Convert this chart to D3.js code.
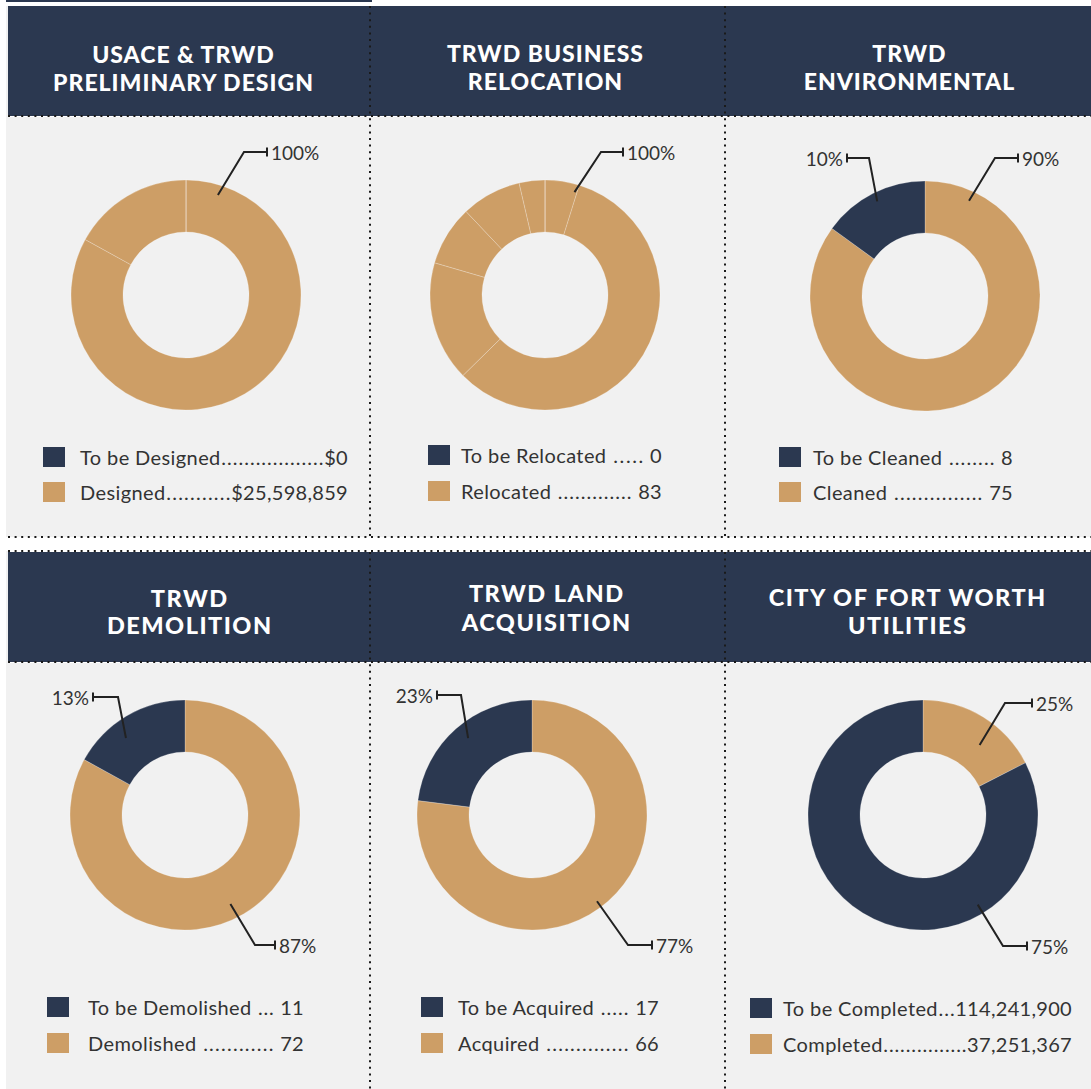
<!DOCTYPE html>
<html>
<head>
<meta charset="utf-8">
<script src="https://cdn.jsdelivr.net/npm/d3@7"></script>
<style>
  body { margin: 0; background: #fff; }
  svg { display: block; font-family: Lato, "Open Sans", sans-serif; }
</style>
</head>
<body>
<script>
// panel titles (two lines each)
const titles = [
    ["USACE & TRWD", "PRELIMINARY DESIGN"],
    ["TRWD BUSINESS", "RELOCATION"],
    ["TRWD", "ENVIRONMENTAL"],
    ["TRWD", "DEMOLITION"],
    ["TRWD LAND", "ACQUISITION"],
    ["CITY OF FORT WORTH", "UTILITIES"]
];

// legend rows
const pendingLabels = ["To be Designed", "To be Relocated", "To be Cleaned", "To be Demolished", "To be Acquired", "To be Completed"];
const doneLabels = ["Designed", "Relocated", "Cleaned", "Demolished", "Acquired", "Completed"];
const pendingValues = ["$0", "0", "8", "11", "17", "114,241,900"];
const doneValues = ["$25,598,859", "83", "75", "72", "66", "37,251,367"];

// percent call-outs
const pendingPct = [null, null, "10%", "13%", "23%", "75%"];
const donePct = ["100%", "100%", "90%", "87%", "77%", "25%"];

// ring shares as drawn in the graphic (done parts first, clockwise from 12 o'clock)
const doneShares = [[83, 17], [4, 48, 14, 7, 7, 3], [85], [83], [77], [17.5]];
const pendingShares = [0, 0, 15, 17, 23, 82.5];

const navy = "#2b3850";
const tan = "#cd9e66";
const panelBg = "#f1f1f1";
const ink = "#333";

// layout of each panel (pixels)
const layout = [
    {cx: 186, cy: 295, tx: 183, ty: [54, 82], ts: 23, ls: 1, lg: {x: 43, y: 447, gap: 35, tx: 80, right: 348, sp: false},
        done: {a: 17.7, r: 105, ex: 58, ey: -143, len: 23}},
    {cx: 545, cy: 295, tx: 545, ty: [53, 81], ts: 23, ls: 1, lg: {x: 428, y: 445, gap: 36, tx: 461, right: 662, sp: true},
        done: {a: 16, r: 107, ex: 56, ey: -143, len: 22}},
    {cx: 925, cy: 296, tx: 909, ty: [53, 81], ts: 23, ls: 1, lg: {x: 779, y: 447, gap: 35, tx: 813, right: 1013, sp: true},
        done: {a: 24.8, r: 105, ex: 70, ey: -138, len: 23}, pending: {a: -26.8, r: 106, ex: -56, ey: -138, len: 22}},
    {cx: 185, cy: 815, tx: 189, ty: [598, 625], ts: 23.5, ls: 1.5, lg: {x: 47, y: 997, gap: 36, tx: 88, right: 304, sp: true},
        done: {a: 153, r: 100, ex: 70, ey: 130, len: 20}, pending: {a: -37.5, r: 97, ex: -67, ey: -118, len: 25}},
    {cx: 532, cy: 815, tx: 546, ty: [593, 622], ts: 23.5, ls: 1.5, lg: {x: 421, y: 997, gap: 36, tx: 458, right: 659, sp: true},
        done: {a: 143, r: 108, ex: 96, ey: 130, len: 24}, pending: {a: -39.7, r: 100, ex: -71, ey: -120, len: 24}},
    {cx: 923, cy: 815, tx: 907, ty: [597, 625], ts: 23.5, ls: 1.5, lg: {x: 750, y: 998, gap: 36, tx: 783, right: 1072, sp: false},
        done: {a: 39, r: 90, ex: 82, ey: -112, len: 27}, pending: {a: 148.6, r: 105, ex: 80, ey: 131, len: 24}}
];

function main() {
    const W = 1091, H = 1089;
    const svg = d3.select("body").append("svg")
        .attr("width", W)
        .attr("height", H);

    // top rule
    svg.append("rect").attr("x", 6).attr("y", 0).attr("width", 366).attr("height", 2).attr("fill", navy);

    // panel backgrounds and header bands
    [[117, 537], [663, 1089]].forEach(function(r) {
        svg.append("rect").attr("x", 6).attr("y", r[0]).attr("width", W - 6).attr("height", r[1] - r[0]).attr("fill", panelBg);
    });
    svg.append("rect").attr("x", 6).attr("y", 6).attr("width", 2).attr("height", 111).attr("fill", panelBg);
    svg.append("rect").attr("x", 6).attr("y", 551).attr("width", 2).attr("height", 112).attr("fill", panelBg);
    [[6, 116], [552, 662]].forEach(function(r) {
        svg.append("rect").attr("x", 8).attr("y", r[0]).attr("width", W - 8).attr("height", r[1] - r[0]).attr("fill", navy);
    });

    // dotted separators
    const dots = svg.append("g")
        .attr("stroke", "#1a1a1a")
        .attr("stroke-width", 2)
        .attr("stroke-dasharray", "2 4.6");
    [116, 537, 551, 662].forEach(function(y) {
        dots.append("line").attr("x1", 8).attr("x2", W).attr("y1", y).attr("y2", y);
    });
    [370, 725].forEach(function(x) {
        dots.append("line").attr("x1", x).attr("x2", x).attr("y1", 6).attr("y2", 537);
        dots.append("line").attr("x1", x).attr("x2", x).attr("y1", 552).attr("y2", H);
    });

    const pie = d3.pie().sort(null).value(d => d.v);
    const arc = d3.arc().innerRadius(63).outerRadius(115);

    layout.forEach(function(p, i) {
        // title
        titles[i].forEach(function(line, k) {
            svg.append("text")
                .attr("x", p.tx + p.ls / 2)
                .attr("y", p.ty[k])
                .attr("text-anchor", "middle")
                .attr("dominant-baseline", "central")
                .attr("fill", "#fff")
                .attr("font-size", p.ts)
                .attr("font-weight", 900)
                .attr("letter-spacing", p.ls)
                .text(line);
        });

        // donut
        const slices = doneShares[i].map(v => ({v: v, c: tan}))
            .concat([{v: pendingShares[i], c: navy}]);
        const g = svg.append("g").attr("transform", "translate(" + p.cx + "," + p.cy + ")");
        g.selectAll("path")
            .data(pie(slices))
            .enter().append("path")
            .attr("d", arc)
            .attr("fill", d => d.data.c)
            .attr("stroke", "rgba(255,255,255,0.28)")
            .attr("stroke-width", 0.8);

        // leader call-outs
        [["done", donePct[i]], ["pending", pendingPct[i]]].forEach(function(e) {
            const L = p[e[0]];
            if (!L || !e[1]) return;
            const a = L.a * Math.PI / 180;
            const x0 = L.r * Math.sin(a), y0 = -L.r * Math.cos(a);
            const dir = L.ex > 0 ? 1 : -1;
            const xe = L.ex + dir * L.len;
            g.append("path")
                .attr("d", "M" + x0 + "," + y0 + "L" + L.ex + "," + L.ey + "H" + xe)
                .attr("fill", "none")
                .attr("stroke", "#222")
                .attr("stroke-width", 2);
            g.append("line")
                .attr("x1", xe).attr("x2", xe)
                .attr("y1", L.ey - 4.5).attr("y2", L.ey + 4.5)
                .attr("stroke", "#222")
                .attr("stroke-width", 2);
            g.append("text")
                .attr("x", xe + dir * 4)
                .attr("y", L.ey)
                .attr("text-anchor", dir > 0 ? "start" : "end")
                .attr("dominant-baseline", "central")
                .attr("fill", ink)
                .attr("font-size", 19)
                .text(e[1]);
        });

        // legend
        const lg = p.lg;
        [[pendingLabels[i], pendingValues[i], navy], [doneLabels[i], doneValues[i], tan]].forEach(function(row, k) {
            const y = lg.y + k * lg.gap;
            svg.append("rect")
                .attr("x", lg.x).attr("y", y)
                .attr("width", 22).attr("height", 20)
                .attr("fill", row[2]);
            const yc = y + 10;
            const lab = svg.append("text")
                .attr("x", lg.tx).attr("y", yc)
                .attr("dominant-baseline", "central")
                .attr("fill", ink).attr("font-size", 20)
                .attr("letter-spacing", 0.4)
                .text(row[0]);
            const val = svg.append("text")
                .attr("x", lg.right).attr("y", yc)
                .attr("text-anchor", "end")
                .attr("dominant-baseline", "central")
                .attr("fill", ink).attr("font-size", 20)
                .attr("letter-spacing", 0.3)
                .text(row[1]);
            // leader dots stretched to fill the space between label and value
            const gap = lg.sp ? 6 : 0;
            const x1 = lg.tx + lab.node().getComputedTextLength() + gap;
            const x2 = lg.right - val.node().getComputedTextLength() - gap;
            const fill = svg.append("text")
                .attr("y", yc)
                .attr("dominant-baseline", "central")
                .attr("fill", ink).attr("font-size", 20)
                .text(".");
            const dw = fill.node().getComputedTextLength();
            const n = Math.max(1, Math.round((x2 - x1) / 5.8));
            const pitch = (x2 - x1) / n;
            fill.attr("x", x1 + (pitch - dw) / 2)
                .attr("letter-spacing", pitch - dw)
                .text(".".repeat(n));
        });
    });
}
main();
</script>
</body>
</html>
